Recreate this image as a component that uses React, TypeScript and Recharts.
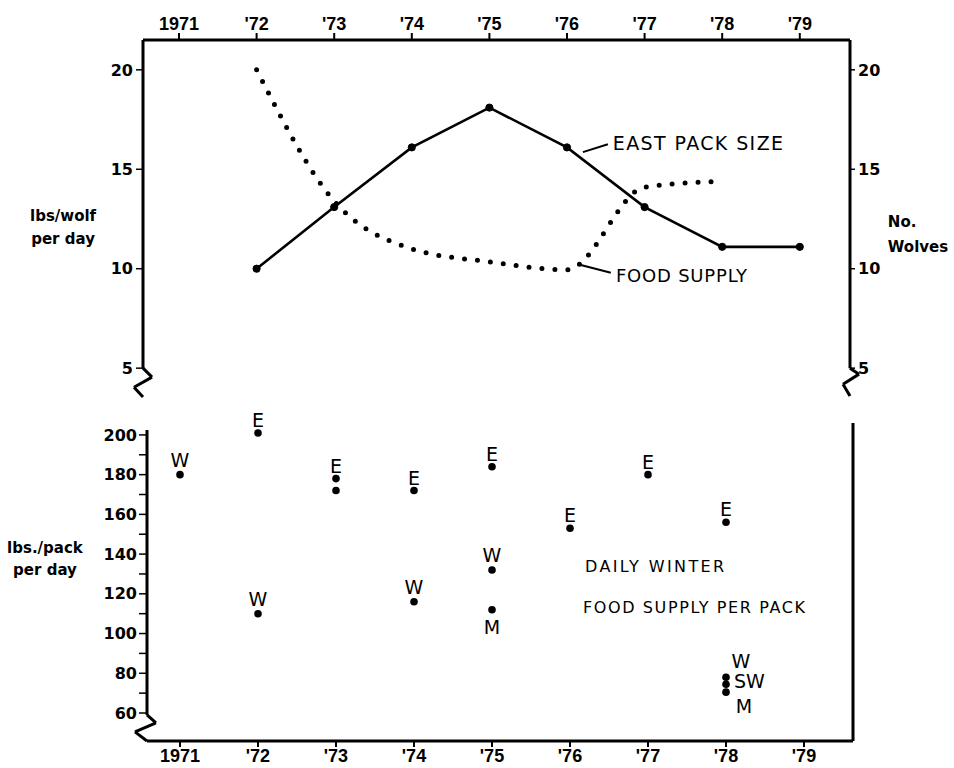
import React from 'react';
import { ComposedChart, Line, Scatter, XAxis, YAxis, ReferenceLine, ReferenceDot } from 'recharts';

// ---------- data ----------
const YEARS = [1971, 1972, 1973, 1974, 1975, 1976, 1977, 1978, 1979];
const YEAR_LABELS = ['1971', "'72", "'73", "'74", "'75", "'76", "'77", "'78", "'79"];

// upper panel
const FOOD_SUPPLY = [null, 20, 13.4, 11.0, 10.35, 9.95, 14.1, 14.4, null]; // lbs/wolf per day (left)
const EAST_PACK_SIZE = [null, 10, 13.1, 16.1, 18.1, 16.1, 13.1, 11.1, 11.1]; // no. wolves (right)
const TOP_TICKS = [5, 10, 15, 20];

// lower panel: daily winter food supply per pack (lbs/pack per day)
const E_YEARS = [1972, 1973, 1973, 1974, 1975, 1976, 1977, 1978];
const E_VALUES = [201, 178, 172, 172, 184, 153, 180, 156];
const W_YEARS = [1971, 1972, 1974, 1975, 1978];
const W_VALUES = [180, 110, 116, 132, 78];
const M_YEARS = [1975, 1978];
const M_VALUES = [112, 70.5];
const SW_YEARS = [1978];
const SW_VALUES = [74.5];
const BOTTOM_TICKS = [60, 70, 80, 90, 100, 110, 120, 130, 140, 150, 160, 170, 180, 190, 200];

// ---------- derived tables ----------
const topData = YEARS.map((y, i) => ({ year: y, food: FOOD_SUPPLY[i], east: EAST_PACK_SIZE[i] }));
const pts = (ys: number[], vs: number[]) => ys.map((y, i) => ({ year: y, value: vs[i] }));
const E_POINTS = pts(E_YEARS, E_VALUES);
const W_POINTS = pts(W_YEARS, W_VALUES);
const M_POINTS = pts(M_YEARS, M_VALUES);
const SW_POINTS = pts(SW_YEARS, SW_VALUES);

// ---------- styles ----------
const INK = '#000';
const SANS = "'DejaVu Sans', 'Liberation Sans', sans-serif";
const TX: [number, number] = [1970.536, 1979.647];
const TY: [number, number] = [3.55, 21.5];
const BX: [number, number] = [1970.577, 1979.628];
const BY: [number, number] = [45.9, 206];

const fmtYear = (v: number) => YEAR_LABELS[YEARS.indexOf(v)] ?? '';
const yTick = { fill: INK, fontSize: 16, fontFamily: SANS, fontWeight: 'bold' as const };

const XTick = (side: 'top' | 'bottom') => (props: any) => {
  const { x, y, payload } = props;
  return (
    <text
      x={x}
      y={y}
      textAnchor="middle"
      dy={side === 'top' ? -1 : 13.5}
      fontFamily="'Liberation Sans', 'DejaVu Sans', sans-serif"
      fontWeight="bold"
      fontSize={18}
      fill={INK}
    >
      {fmtYear(payload.value)}
    </text>
  );
};

const LABEL_PLACE: Record<string, { dx: number; dy: number; anchor: 'middle' | 'start' }> = {
  E: { dx: 0, dy: -6, anchor: 'middle' },
  W: { dx: 0, dy: -8, anchor: 'middle' },
  M: { dx: 0, dy: 24, anchor: 'middle' },
  SW: { dx: 8, dy: 4, anchor: 'start' },
};
const LABEL_SHIFT: Record<string, { dx: number; dy: number }> = {
  'W-1978': { dx: 15, dy: -1 },
  'M-1978': { dx: 18, dy: -3 },
};

const makeShape = (series: string, points: { year: number; value: number }[]) => (props: any) => {
  const { cx, cy, payload } = props;
  if (cx == null || cy == null) return <g />;
  const isTop = !points.some((p) => p.year === payload.year && p.value > payload.value);
  const place = LABEL_PLACE[series];
  const shift = LABEL_SHIFT[`${series}-${payload.year}`] || { dx: 0, dy: 0 };
  return (
    <g>
      <circle cx={cx} cy={cy} r={3.8} fill={INK} />
      {isTop && (
        <text
          x={cx + place.dx + shift.dx}
          y={cy + place.dy + shift.dy}
          textAnchor={place.anchor}
          fontFamily={SANS}
          fontSize={19}
          fill={INK}
        >
          {series}
        </text>
      )}
    </g>
  );
};

const textShape = (lines: string[], opts: { size: number; anchor?: 'start' | 'middle'; bold?: boolean; spacing?: number; lh?: number }) =>
  (p: any) => (
    <text
      x={p.cx}
      y={p.cy}
      textAnchor={opts.anchor || 'start'}
      fontFamily={SANS}
      fontSize={opts.size}
      fontWeight={opts.bold ? 'bold' : 'normal'}
      letterSpacing={opts.spacing || 0}
      fill={INK}
    >
      {lines.map((l, i) => (
        <tspan key={i} x={p.cx} dy={i === 0 ? 0 : opts.lh || 23}>
          {l}
        </tspan>
      ))}
    </text>
  );

const seg = (a: [number, number], b: [number, number]) => [{ x: a[0], y: a[1] }, { x: b[0], y: b[1] }];

export default function App() {
  const thick = { stroke: INK, strokeWidth: 3 };
  return (
    <div style={{ position: 'absolute', left: 0, top: 0, width: 954, height: 768, background: '#fff' }}>
      {/* ---------- upper panel ---------- */}
      <div style={{ position: 'absolute', left: 0, top: 0 }}>
        <ComposedChart width={954} height={400} data={topData} margin={{ top: 10, right: 0, bottom: 3, left: 0 }}>
          <XAxis
            xAxisId="t"
            type="number"
            dataKey="year"
            orientation="top"
            domain={TX}
            ticks={YEARS}
            height={30}
            axisLine={{ stroke: INK, strokeWidth: 3 }}
            tickLine={{ stroke: INK, strokeWidth: 2 }}
            tickSize={7}
            tickMargin={2}
            tick={XTick('top')}
            allowDataOverflow
          />
          <YAxis
            yAxisId="l"
            type="number"
            domain={TY}
            ticks={TOP_TICKS}
            width={143}
            axisLine={false}
            tickLine={{ stroke: INK, strokeWidth: 1.5 }}
            tickSize={7}
            tickMargin={3}
            tick={yTick}
            allowDataOverflow
          />
          <YAxis
            yAxisId="r"
            type="number"
            orientation="right"
            domain={TY}
            ticks={TOP_TICKS}
            width={104}
            axisLine={false}
            tickLine={{ stroke: INK, strokeWidth: 1.5 }}
            tickSize={5}
            tickMargin={3}
            tick={yTick}
            allowDataOverflow
          />
          {/* axis lines with breaks */}
          <ReferenceLine xAxisId="t" yAxisId="l" segment={seg([TX[0], 21.5], [TX[0], 5])} ifOverflow="visible" {...thick} />
          <ReferenceLine xAxisId="t" yAxisId="l" segment={seg([TX[0], 5], [TX[0] + 0.116, 4.55])} ifOverflow="visible" {...thick} />
          <ReferenceLine xAxisId="t" yAxisId="l" segment={seg([TX[0] + 0.116, 4.55], [TX[0] - 0.116, 4.04])} ifOverflow="visible" {...thick} />
          <ReferenceLine xAxisId="t" yAxisId="l" segment={seg([TX[0] - 0.116, 4.04], [TX[0], 3.55])} ifOverflow="visible" {...thick} />
          <ReferenceLine xAxisId="t" yAxisId="l" segment={seg([TX[1], 21.5], [TX[1], 5])} ifOverflow="visible" {...thick} />
          <ReferenceLine xAxisId="t" yAxisId="l" segment={seg([TX[1], 5], [TX[1] + 0.116, 4.7])} ifOverflow="visible" {...thick} />
          <ReferenceLine xAxisId="t" yAxisId="l" segment={seg([TX[1] + 0.116, 4.7], [TX[1] - 0.09, 4.19])} ifOverflow="visible" {...thick} />
          <ReferenceLine xAxisId="t" yAxisId="l" segment={seg([TX[1] - 0.09, 4.19], [TX[1], 3.6])} ifOverflow="visible" {...thick} />

          <Line
            xAxisId="t"
            yAxisId="l"
            dataKey="food"
            type="monotone"
            stroke={INK}
            strokeWidth={5}
            strokeDasharray="0 13"
            strokeLinecap="round"
            dot={false}
            activeDot={false}
            isAnimationActive={false}
          />
          <Line
            xAxisId="t"
            yAxisId="r"
            dataKey="east"
            type="linear"
            stroke={INK}
            strokeWidth={2.6}
            dot={{ r: 3.6, fill: INK, stroke: INK, strokeWidth: 1 }}
            activeDot={false}
            isAnimationActive={false}
          />

          {/* annotations */}
          <ReferenceLine xAxisId="t" yAxisId="l" segment={seg([1976.205, 15.86], [1976.527, 16.26])} ifOverflow="visible" stroke={INK} strokeWidth={2} />
          <ReferenceLine xAxisId="t" yAxisId="l" segment={seg([1976.166, 10.2], [1976.565, 9.8])} ifOverflow="visible" stroke={INK} strokeWidth={2} />
          <ReferenceDot xAxisId="t" yAxisId="l" x={1976.59} y={15.96} r={0} ifOverflow="visible"
            shape={textShape(['EAST PACK SIZE'], { size: 19, spacing: 1.4 })} />
          <ReferenceDot xAxisId="t" yAxisId="l" x={1976.63} y={9.34} r={0} ifOverflow="visible"
            shape={textShape(['FOOD SUPPLY'], { size: 18, spacing: 0.8 })} />
          <ReferenceDot xAxisId="t" yAxisId="l" x={1969.506} y={12.42} r={0} ifOverflow="visible"
            shape={textShape(['lbs/wolf', 'per day'], { size: 15, anchor: 'middle', bold: true, lh: 23 })} />
          <ReferenceDot xAxisId="t" yAxisId="l" x={1980.135} y={12.12} r={0} ifOverflow="visible"
            shape={textShape(['No.', 'Wolves'], { size: 15, bold: true, lh: 25 })} />
        </ComposedChart>
      </div>

      {/* ---------- lower panel ---------- */}
      <div style={{ position: 'absolute', left: 0, top: 400 }}>
        <ComposedChart width={954} height={368} margin={{ top: 23, right: 101, bottom: 0, left: 0 }}>
          <XAxis
            xAxisId="b"
            type="number"
            dataKey="year"
            domain={BX}
            ticks={YEARS}
            height={27}
            axisLine={{ stroke: INK, strokeWidth: 3 }}
            tickLine={{ stroke: INK, strokeWidth: 2 }}
            tickSize={6}
            tickMargin={1}
            tick={XTick('bottom')}
          />
          <YAxis
            yAxisId="b"
            type="number"
            domain={BY}
            ticks={BOTTOM_TICKS}
            tickFormatter={(v: number) => (v % 20 === 0 ? String(v) : '')}
            width={147}
            axisLine={false}
            tickLine={{ stroke: INK, strokeWidth: 1.5 }}
            tickSize={8}
            tickMargin={2}
            tick={yTick}
          />
          <ReferenceLine xAxisId="b" yAxisId="b" segment={seg([BX[0], 202.5], [BX[0], 59])} ifOverflow="visible" {...thick} />
          <ReferenceLine xAxisId="b" yAxisId="b" segment={seg([BX[0], 59], [BX[0] + 0.115, 55])} ifOverflow="visible" {...thick} />
          <ReferenceLine xAxisId="b" yAxisId="b" segment={seg([BX[0] + 0.115, 55], [BX[0] - 0.154, 50.5])} ifOverflow="visible" {...thick} />
          <ReferenceLine xAxisId="b" yAxisId="b" segment={seg([BX[0] - 0.154, 50.5], [BX[0], BY[0]])} ifOverflow="visible" {...thick} />
          <ReferenceLine xAxisId="b" yAxisId="b" segment={seg([BX[1], BY[1]], [BX[1], BY[0]])} ifOverflow="visible" {...thick} />

          <Scatter xAxisId="b" yAxisId="b" data={E_POINTS} dataKey="value" shape={makeShape('E', E_POINTS)} isAnimationActive={false} />
          <Scatter xAxisId="b" yAxisId="b" data={W_POINTS} dataKey="value" shape={makeShape('W', W_POINTS)} isAnimationActive={false} />
          <Scatter xAxisId="b" yAxisId="b" data={M_POINTS} dataKey="value" shape={makeShape('M', M_POINTS)} isAnimationActive={false} />
          <Scatter xAxisId="b" yAxisId="b" data={SW_POINTS} dataKey="value" shape={makeShape('SW', SW_POINTS)} isAnimationActive={false} />

          <ReferenceDot xAxisId="b" yAxisId="b" x={1977.1} y={131} r={0} ifOverflow="visible"
            shape={textShape(['DAILY WINTER'], { size: 16, anchor: 'middle', spacing: 2.4 })} />
          <ReferenceDot xAxisId="b" yAxisId="b" x={1977.6} y={110.4} r={0} ifOverflow="visible"
            shape={textShape(['FOOD SUPPLY PER PACK'], { size: 16, anchor: 'middle', spacing: 1.6 })} />
          <ReferenceDot xAxisId="b" yAxisId="b" x={1969.269} y={140.6} r={0} ifOverflow="visible"
            shape={textShape(['lbs./pack', 'per day'], { size: 15, anchor: 'middle', bold: true, lh: 22 })} />
        </ComposedChart>
      </div>
    </div>
  );
}
